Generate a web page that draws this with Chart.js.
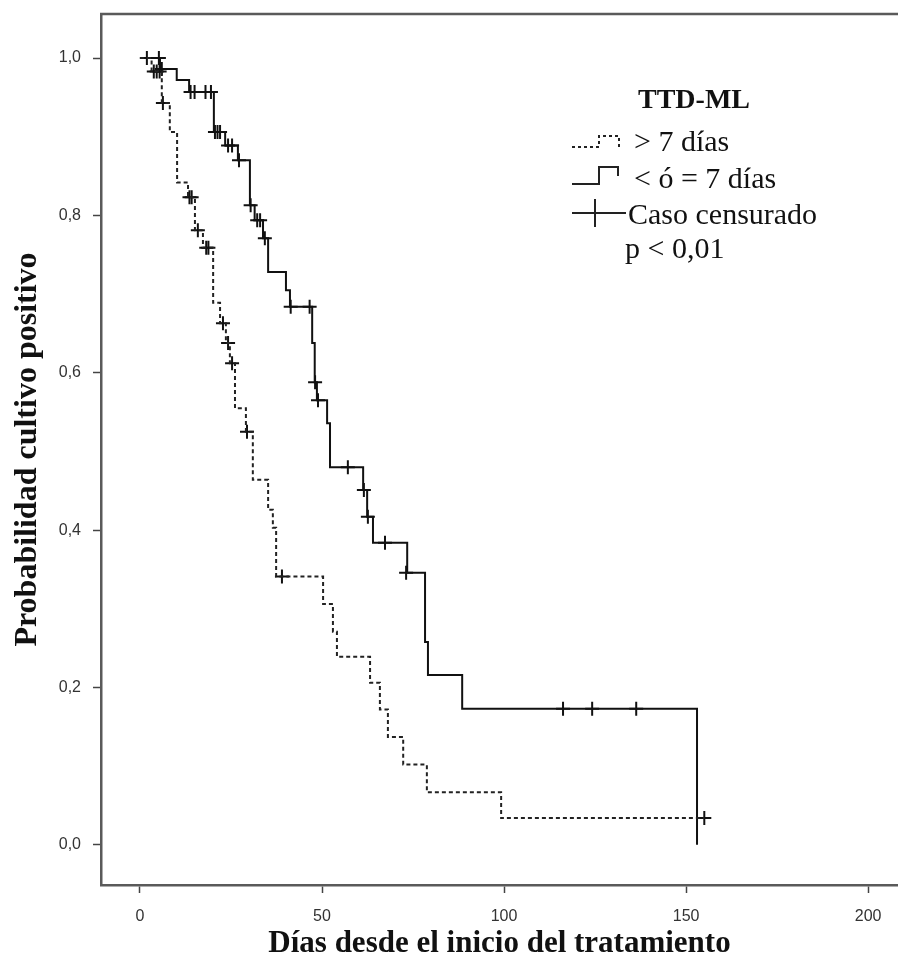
<!DOCTYPE html>
<html>
<head>
<meta charset="utf-8">
<script src="https://cdn.jsdelivr.net/npm/chart.js@4.4.1/dist/chart.umd.min.js"></script>
<style>
html,body{margin:0;padding:0;background:#fff;overflow:hidden}
#wrap{width:898px;height:976px;position:relative}
</style>
</head>
<body>
<div id="wrap"><canvas id="c" width="898" height="976"></canvas></div>
<script>
// ---- data ----
const xTicks = [0, 50, 100, 150, 200];
const yTicks = [0.0, 0.2, 0.4, 0.6, 0.8, 1.0];

// group "> 7 días" (dashed)
const gt7Times = [0, 3.2, 6.0, 8.2, 10.2, 13.2, 15.1, 17.3, 20.1, 22.0, 23.6, 24.7, 26.1, 29.1, 31.0, 35.2, 36.5, 37.4, 50.3, 53.0, 54.1, 63.2, 65.9, 68.1, 72.3, 78.8, 99.2, 155.0];
const gt7Surv  = [1.0, 0.983, 0.943, 0.906, 0.842, 0.823, 0.781, 0.759, 0.689, 0.663, 0.638, 0.612, 0.555, 0.525, 0.464, 0.426, 0.403, 0.341, 0.306, 0.271, 0.239, 0.206, 0.172, 0.137, 0.102, 0.067, 0.034, 0.034];
const gt7CensTimes = [3.8, 4.6, 5.4, 6.3, 13.6, 14.2, 15.9, 18.2, 18.8, 22.8, 24.2, 25.3, 29.4, 39.0, 155.0];
const gt7CensSurv  = [0.983, 0.983, 0.983, 0.943, 0.823, 0.823, 0.781, 0.759, 0.759, 0.663, 0.638, 0.612, 0.525, 0.341, 0.034];

// group "< ó = 7 días" (solid)
const le7Times = [0, 5.5, 10.1, 13.5, 20.3, 23.4, 26.9, 30.2, 31.5, 33.8, 35.2, 40.1, 41.2, 47.3, 48.0, 48.6, 51.4, 52.2, 61.3, 62.4, 64.0, 73.4, 78.3, 79.1, 88.5, 153.0];
const le7Surv  = [1.0, 0.986, 0.972, 0.957, 0.906, 0.889, 0.870, 0.813, 0.794, 0.771, 0.728, 0.705, 0.684, 0.638, 0.588, 0.565, 0.536, 0.480, 0.451, 0.417, 0.384, 0.346, 0.258, 0.216, 0.173, 0.0];
const le7CensTimes = [1.9, 5.2, 6.0, 13.9, 15.0, 18.0, 19.5, 20.6, 21.3, 22.0, 24.2, 25.3, 27.2, 30.4, 32.2, 33.0, 34.3, 41.4, 46.6, 48.1, 48.9, 57.1, 61.5, 62.6, 67.3, 73.1, 116.2, 124.2, 136.3];
const le7CensSurv  = [1.0, 1.0, 0.986, 0.957, 0.957, 0.957, 0.957, 0.906, 0.906, 0.906, 0.889, 0.889, 0.870, 0.813, 0.794, 0.794, 0.771, 0.684, 0.684, 0.588, 0.565, 0.480, 0.451, 0.417, 0.384, 0.346, 0.173, 0.173, 0.173];

const legendTitle = 'TTD-ML';
const legendLabels = ['> 7 días', '< ó = 7 días', 'Caso censurado', 'p < 0,01'];
const xTitle = 'Días desde el inicio del tratamiento';
const yTitle = 'Probabilidad cultivo positivo';

// ---- build datasets ----
const toPts = (xs, ys) => xs.map((x, i) => ({x: x, y: ys[i]}));

const frameColor = '#5a5a5a';
const serif = '"Liberation Serif", "Times New Roman", serif';
const sans = '"Liberation Sans", Arial, sans-serif';

const framePlugin = {
  id: 'frameTop',
  afterDraw(chart) {
    const {ctx, chartArea: a} = chart;
    ctx.save();
    ctx.strokeStyle = frameColor;
    ctx.lineWidth = 2.5;
    ctx.beginPath();
    ctx.moveTo(a.left - 1, a.top);
    ctx.lineTo(a.right + 2, a.top);
    ctx.stroke();
    ctx.restore();
  }
};

const legendPlugin = {
  id: 'kmLegend',
  afterDraw(chart) {
    const ctx = chart.ctx;
    ctx.save();
    ctx.fillStyle = '#111';
    ctx.textBaseline = 'alphabetic';
    ctx.font = 'bold 28px ' + serif;
    ctx.textAlign = 'center';
    ctx.fillText(legendTitle, 694, 108);
    ctx.font = '30px ' + serif;
    ctx.textAlign = 'left';
    const xs = [634, 634, 628, 625];
    const bs = [151, 188, 224, 258];
    legendLabels.forEach((t, i) => ctx.fillText(t, xs[i], bs[i]));

    ctx.strokeStyle = '#222';
    ctx.lineWidth = 2;
    // dashed step symbol
    ctx.setLineDash([3, 3]);
    ctx.beginPath();
    ctx.moveTo(572, 147); ctx.lineTo(599, 147); ctx.lineTo(599, 136);
    ctx.lineTo(619, 136); ctx.lineTo(619, 147);
    ctx.stroke();
    // solid step symbol
    ctx.setLineDash([]);
    ctx.beginPath();
    ctx.moveTo(572, 184); ctx.lineTo(599, 184); ctx.lineTo(599, 167);
    ctx.lineTo(618, 167); ctx.lineTo(618, 176);
    ctx.stroke();
    // censor symbol
    ctx.beginPath();
    ctx.moveTo(572, 213); ctx.lineTo(626, 213);
    ctx.moveTo(595, 199); ctx.lineTo(595, 227);
    ctx.stroke();
    ctx.restore();
  }
};

const fmt = v => v.toFixed(1).replace('.', ',');
const noPad = s => { s.paddingTop = 0; s.paddingBottom = 0; s.paddingLeft = 0; s.paddingRight = 0; };

new Chart(document.getElementById('c'), {
  type: 'scatter',
  data: {
    datasets: [
      {
        label: '> 7 días',
        data: toPts(gt7Times, gt7Surv),
        showLine: true, stepped: true,
        borderColor: '#222', borderWidth: 2, borderDash: [4, 3],
        pointRadius: 0, fill: false
      },
      {
        label: '< ó = 7 días',
        data: toPts(le7Times, le7Surv),
        showLine: true, stepped: true,
        borderColor: '#111', borderWidth: 2,
        pointRadius: 0, fill: false
      },
      {
        label: 'Caso censurado (> 7 días)',
        data: toPts(gt7CensTimes, gt7CensSurv),
        showLine: false,
        pointStyle: 'cross', pointRadius: 7, pointBorderWidth: 2,
        borderColor: '#111', backgroundColor: '#111'
      },
      {
        label: 'Caso censurado (< ó = 7 días)',
        data: toPts(le7CensTimes, le7CensSurv),
        showLine: false,
        pointStyle: 'cross', pointRadius: 7, pointBorderWidth: 2,
        borderColor: '#111', backgroundColor: '#111'
      }
    ]
  },
  options: {
    responsive: false,
    animation: false,
    layout: {autoPadding: false, padding: {top: 14, right: 0, left: 0, bottom: 0}},
    plugins: {
      legend: {display: false},
      tooltip: {enabled: false}
    },
    scales: {
      x: {
        type: 'linear',
        position: 'bottom',
        min: -10.7,
        max: 208.2,
        afterBuildTicks: s => { s.ticks = xTicks.map(v => ({value: v})); },
        afterFit: s => { s.height = 91; noPad(s); },
        ticks: {
          color: '#333',
          padding: 14,
          font: {family: sans, size: 16},
          callback: v => String(v)
        },
        grid: {display: true, drawOnChartArea: false, drawTicks: true, tickLength: 8, tickColor: '#444', tickWidth: 1.5},
        border: {display: true, color: frameColor, width: 2.5},
        title: {
          display: true, text: xTitle, color: '#111',
          font: {family: serif, size: 31, weight: 'bold', lineHeight: 1},
          padding: {top: 0, bottom: 17}
        }
      },
      y: {
        type: 'linear',
        position: 'left',
        min: -0.051,
        max: 1.056,
        afterBuildTicks: s => { s.ticks = yTicks.map(v => ({value: v})); },
        afterFit: s => { s.width = 101; noPad(s); },
        ticks: {
          color: '#333',
          padding: 12,
          font: {family: sans, size: 16},
          callback: v => fmt(v)
        },
        grid: {display: true, drawOnChartArea: false, drawTicks: true, tickLength: 8, tickColor: '#444', tickWidth: 1.5},
        border: {display: true, color: frameColor, width: 2.5},
        title: {
          display: true, text: yTitle, color: '#111',
          font: {family: serif, size: 32, weight: 'bold', lineHeight: 1},
          padding: {top: 12, bottom: 0}
        }
      }
    }
  },
  plugins: [framePlugin, legendPlugin]
});
</script>
</body>
</html>
